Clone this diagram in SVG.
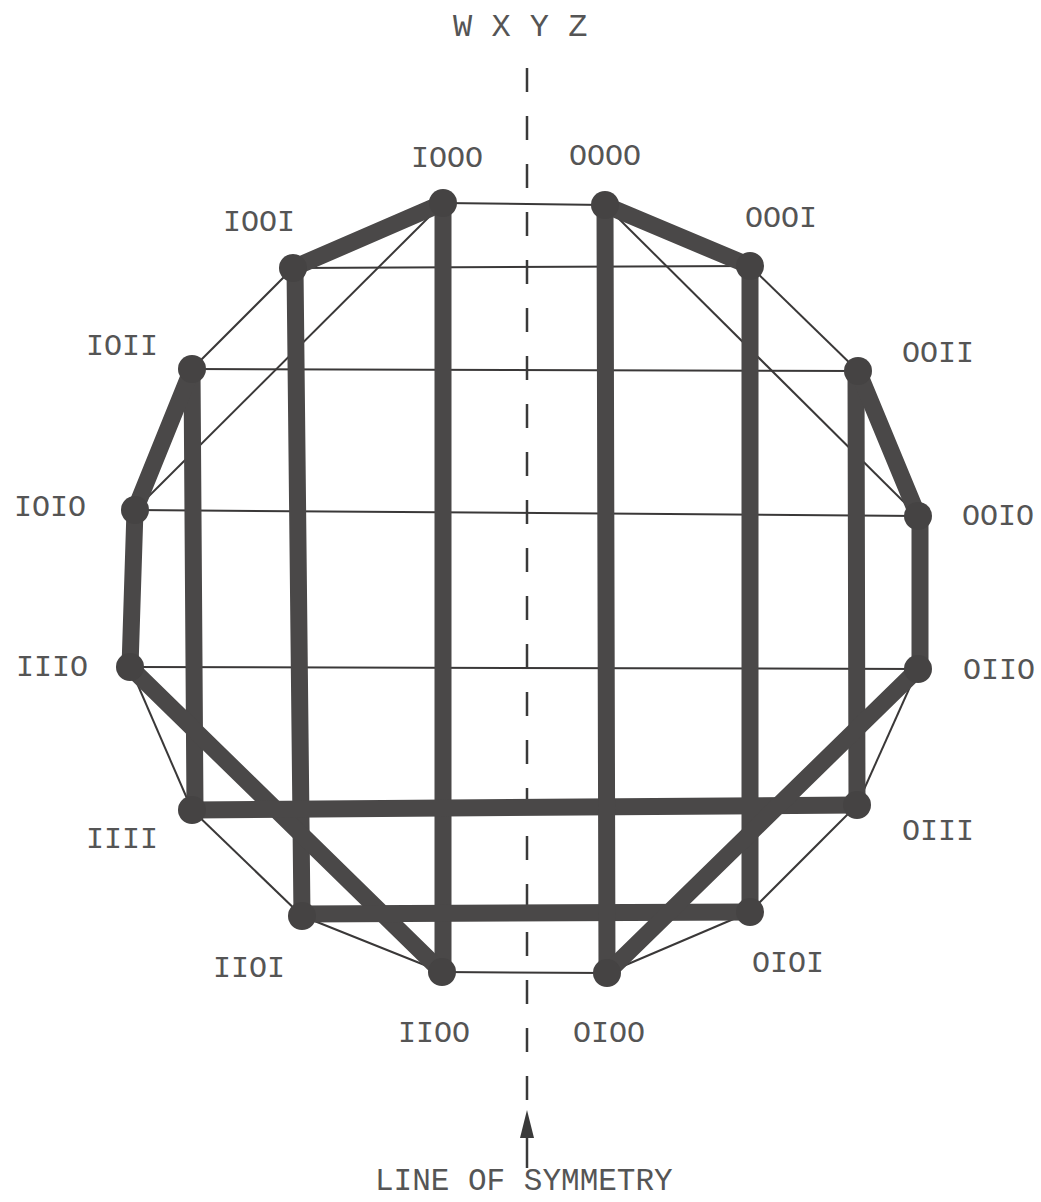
<svg xmlns="http://www.w3.org/2000/svg" width="1041" height="1202" viewBox="0 0 1041 1202">
<style>
.thick{stroke:#4a4848;stroke-width:17;stroke-linecap:round;fill:none}
.thin{stroke:#3a3838;stroke-width:2;fill:none}
.node{fill:#454343}
.lbl{font-family:"Liberation Mono","Courier New",monospace;font-size:30px;fill:#555555}
.sym{stroke:#3a3a3a;stroke-width:2.5;stroke-dasharray:24 24;fill:none}
</style>
<rect width="1041" height="1202" fill="#ffffff"/>
<text class="lbl" x="453" y="36" style="font-size:32px">W X Y Z</text>
<line class="sym" x1="527" y1="68" x2="527" y2="1100"/>
<polygon points="527,1110 520,1138 534,1138" fill="#3a3a3a"/>
<line x1="527" y1="1136" x2="527" y2="1168" stroke="#3a3a3a" stroke-width="2.5"/>
<text class="lbl" x="375" y="1190" style="font-size:31px">LINE OF SYMMETRY</text>
<g id="connectors">
<line class="thin" x1="443" y1="203" x2="605" y2="205"/>
<line class="thin" x1="293" y1="268" x2="750" y2="266"/>
<line class="thin" x1="192" y1="369" x2="858" y2="371"/>
<line class="thin" x1="135" y1="510" x2="918" y2="516"/>
<line class="thin" x1="130" y1="667" x2="918" y2="669"/>
<line class="thin" x1="442" y1="972" x2="607" y2="973"/>
<line class="thin" x1="293" y1="268" x2="192" y2="369"/>
<line class="thin" x1="443" y1="203" x2="135" y2="510"/>
<line class="thin" x1="750" y1="266" x2="858" y2="371"/>
<line class="thin" x1="605" y1="205" x2="918" y2="516"/>
<line class="thin" x1="130" y1="667" x2="192" y2="810"/>
<line class="thin" x1="192" y1="810" x2="302" y2="916"/>
<line class="thin" x1="302" y1="916" x2="442" y2="972"/>
<line class="thin" x1="918" y1="669" x2="857" y2="805"/>
<line class="thin" x1="857" y1="805" x2="750" y2="912"/>
<line class="thin" x1="750" y1="912" x2="607" y2="973"/>
<line class="thick" x1="443" y1="203" x2="293" y2="268"/>
<line class="thick" x1="443" y1="203" x2="443" y2="972"/>
<line class="thick" x1="295" y1="268" x2="302" y2="916"/>
<line class="thick" x1="192" y1="369" x2="195" y2="810"/>
<line class="thick" x1="192" y1="369" x2="135" y2="510"/>
<line class="thick" x1="135" y1="510" x2="130" y2="667"/>
<line class="thick" x1="130" y1="667" x2="442" y2="972"/>
<line class="thick" x1="192" y1="810" x2="857" y2="805"/>
<line class="thick" x1="302" y1="914" x2="750" y2="912"/>
<line class="thick" x1="605" y1="205" x2="750" y2="266"/>
<line class="thick" x1="605" y1="205" x2="607" y2="973"/>
<line class="thick" x1="750" y1="266" x2="750" y2="912"/>
<line class="thick" x1="856" y1="371" x2="857" y2="805"/>
<line class="thick" x1="858" y1="371" x2="918" y2="516"/>
<line class="thick" x1="920" y1="516" x2="920" y2="669"/>
<line class="thick" x1="918" y1="669" x2="607" y2="973"/>
</g>
<g id="n1000"><circle class="node" cx="443" cy="203" r="14"/><text class="lbl" x="411" y="167">IOOO</text></g>
<g id="n0000"><circle class="node" cx="605" cy="205" r="14"/><text class="lbl" x="569" y="165">OOOO</text></g>
<g id="n1001"><circle class="node" cx="293" cy="268" r="14"/><text class="lbl" x="223" y="231">IOOI</text></g>
<g id="n0001"><circle class="node" cx="750" cy="266" r="14"/><text class="lbl" x="745" y="227">OOOI</text></g>
<g id="n1011"><circle class="node" cx="192" cy="369" r="14"/><text class="lbl" x="86" y="355">IOII</text></g>
<g id="n0011"><circle class="node" cx="858" cy="371" r="14"/><text class="lbl" x="902" y="362">OOII</text></g>
<g id="n1010"><circle class="node" cx="135" cy="510" r="14"/><text class="lbl" x="14" y="516">IOIO</text></g>
<g id="n0010"><circle class="node" cx="918" cy="516" r="14"/><text class="lbl" x="962" y="525">OOIO</text></g>
<g id="n1110"><circle class="node" cx="130" cy="667" r="14"/><text class="lbl" x="16" y="676">IIIO</text></g>
<g id="n0110"><circle class="node" cx="918" cy="669" r="14"/><text class="lbl" x="963" y="679">OIIO</text></g>
<g id="n1111"><circle class="node" cx="192" cy="810" r="14"/><text class="lbl" x="86" y="848">IIII</text></g>
<g id="n0111"><circle class="node" cx="857" cy="805" r="14"/><text class="lbl" x="902" y="840">OIII</text></g>
<g id="n1101"><circle class="node" cx="302" cy="916" r="14"/><text class="lbl" x="213" y="977">IIOI</text></g>
<g id="n0101"><circle class="node" cx="750" cy="912" r="14"/><text class="lbl" x="752" y="972">OIOI</text></g>
<g id="n1100"><circle class="node" cx="442" cy="972" r="14"/><text class="lbl" x="398" y="1042">IIOO</text></g>
<g id="n0100"><circle class="node" cx="607" cy="973" r="14"/><text class="lbl" x="573" y="1042">OIOO</text></g>
</svg>
